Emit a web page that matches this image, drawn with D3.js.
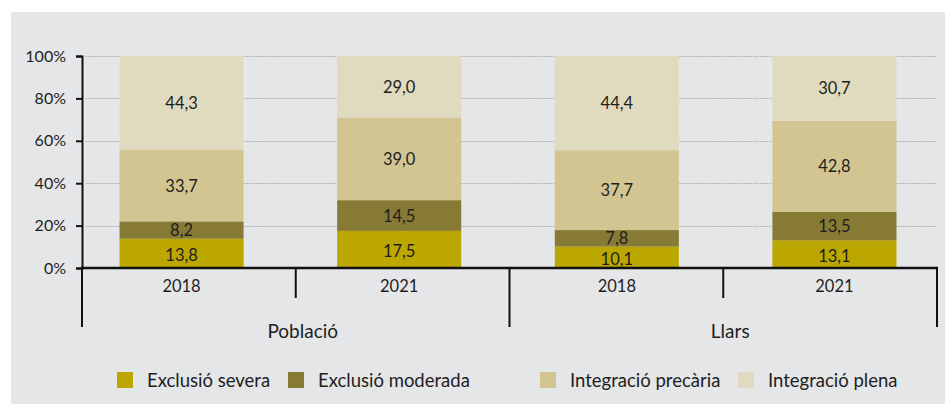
<!DOCTYPE html>
<html>
<head>
<meta charset="utf-8">
<script src="https://cdn.jsdelivr.net/npm/d3@7"></script>
<style>
  html, body { margin: 0; padding: 0; background: #ffffff; }
  svg { display: block; }
  text { font-family: Lato, "Noto Sans", sans-serif; fill: #1e1e1e; }
</style>
</head>
<body>
<svg id="chart" width="946" height="404"></svg>
<script>
// ---- data ----
const groups = ["Població", "Llars"];
const years = ["2018", "2021", "2018", "2021"];
const barGroup = ["Població", "Població", "Llars", "Llars"];
const seriesNames = ["Exclusió severa", "Exclusió moderada", "Integració precària", "Integració plena"];
const exclusioSevera     = [13.8, 17.5, 10.1, 13.1];
const exclusioModerada   = [8.2, 14.5, 7.8, 13.5];
const integracioPrecaria = [33.7, 39.0, 37.7, 42.8];
const integracioPlena    = [44.3, 29.0, 44.4, 30.7];
const yTicks = [0, 20, 40, 60, 80, 100];

// ---- style/layout ----
const colors = ["#bca600", "#877a35", "#d2c592", "#e0dbbf"];
const panelColor = "#e5e6e8";
const svg = d3.select("#chart");

svg.append("rect").attr("x", 11).attr("y", 12).attr("width", 934).attr("height", 392).attr("fill", panelColor);

const seriesValues = [exclusioSevera, exclusioModerada, integracioPrecaria, integracioPlena];
const rows = years.map((y, i) => {
  const r = { idx: i, year: y, group: barGroup[i] };
  seriesNames.forEach((s, k) => r[s] = seriesValues[k][i]);
  return r;
});
const stacked = d3.stack().keys(seriesNames)(rows);

const y = d3.scaleLinear().domain([0, 100]).range([268, 56]);
// bar positions
const x = d3.scaleBand().domain(d3.range(rows.length)).range([76, 940]).paddingInner(0.43).paddingOuter(0.2);
// axis separators
const xSep = d3.scaleBand().domain(d3.range(rows.length)).range([82, 937]);

// gridlines
svg.append("g").selectAll("line").data(yTicks.slice(1)).join("line")
  .attr("x1", 86).attr("x2", 936)
  .attr("y1", d => Math.round(y(d)) + 0.5).attr("y2", d => Math.round(y(d)) + 0.5)
  .attr("stroke", "#a9a9a9").attr("stroke-width", 1).attr("stroke-dasharray", "1.3,1");

// bars
const layers = svg.append("g").selectAll("g").data(stacked).join("g")
  .attr("fill", (d, i) => colors[i]);
layers.selectAll("rect").data(d => d).join("rect")
  .attr("x", (d, i) => x(i))
  .attr("width", x.bandwidth())
  .attr("y", d => y(d[1]))
  .attr("height", d => y(d[0]) - y(d[1]));

// value labels
const fmt = v => d3.format(".1f")(v).replace(".", ",");
stacked.forEach((layer, k) => {
  svg.append("g").selectAll("text").data(layer).join("text")
    .attr("x", (d, i) => x(i) + x.bandwidth() / 2)
    .attr("y", d => (y(d[0]) + y(d[1])) / 2 + (k === 0 ? 1.5 : 0))
    .attr("text-anchor", "middle")
    .attr("dominant-baseline", "central")
    .attr("font-size", 16.5)
    .text(d => fmt(d.data[layer.key]));
});

// y axis
const yAxis = svg.append("g").attr("transform", "translate(82,0)")
  .call(d3.axisLeft(y).tickValues(yTicks).tickFormat(d => d + "%").tickSize(6).tickPadding(10));
yAxis.select(".domain").attr("stroke", "#111").attr("stroke-width", 2);
yAxis.selectAll(".tick line").attr("stroke", "#111").attr("stroke-width", 2);
yAxis.selectAll(".tick text").attr("font-size", 16).attr("font-family", "Lato, 'Noto Sans', sans-serif").attr("fill", "#1e1e1e");

// x axis line
svg.append("line").attr("x1", 81).attr("x2", 938).attr("y1", 268).attr("y2", 268)
  .attr("stroke", "#111").attr("stroke-width", 2.5);

// separators
const seps = d3.range(rows.length + 1).map(i => ({
  x: i < rows.length ? xSep(i) : xSep(rows.length - 1) + xSep.bandwidth(),
  tall: i % 2 === 0
}));
svg.append("g").selectAll("line").data(seps).join("line")
  .attr("x1", d => d.x).attr("x2", d => d.x)
  .attr("y1", 267).attr("y2", d => d.tall ? 327 : 298)
  .attr("stroke", "#111").attr("stroke-width", 2);

// year labels
svg.append("g").selectAll("text").data(rows).join("text")
  .attr("x", (d, i) => x(i) + x.bandwidth() / 2)
  .attr("y", 292)
  .attr("text-anchor", "middle")
  .attr("font-size", 16.5)
  .text(d => d.year);

// group labels
const groupCenters = groups.map(g => {
  const idx = rows.filter(r => r.group === g).map(r => r.idx);
  const x0 = xSep(idx[0]), x1 = xSep(idx[idx.length - 1]) + xSep.bandwidth();
  return { g, cx: (x0 + x1) / 2 + 7 };
});
svg.append("g").selectAll("text").data(groupCenters).join("text")
  .attr("x", d => d.cx).attr("y", 338)
  .attr("text-anchor", "middle")
  .attr("font-size", 19)
  .text(d => d.g);

// legend
const legendX = [117, 288, 540, 738];
const leg = svg.append("g").selectAll("g").data(seriesNames).join("g")
  .attr("transform", (d, i) => `translate(${legendX[i]},372)`);
leg.append("rect").attr("width", 16).attr("height", 16).attr("fill", (d, i) => colors[i]);
leg.append("text").attr("x", 30).attr("y", 14.5).attr("font-size", 18.5).text(d => d);
</script>
</body>
</html>
